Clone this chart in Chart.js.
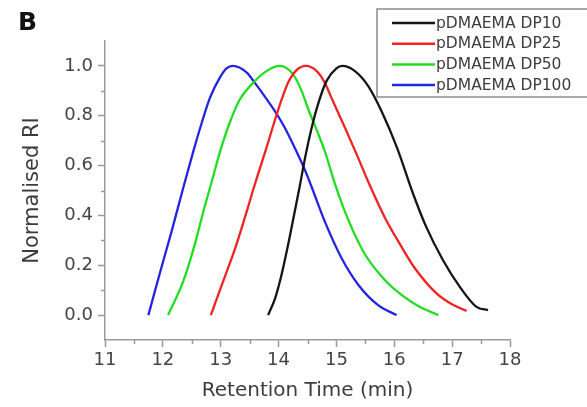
<!DOCTYPE html>
<html>
<head>
<meta charset="utf-8">
<script src="https://cdn.jsdelivr.net/npm/chart.js@4.4.0/dist/chart.umd.min.js"></script>
<style>
  html, body { margin: 0; padding: 0; background: #ffffff; }
  #wrap { width: 587px; height: 407px; }
</style>
</head>
<body>
<div id="wrap"><canvas id="gpc" width="587" height="407"></canvas></div>
<script>
// GPC traces: retention time (min) and normalised RI response per polymer
const seriesLabels = ['pDMAEMA DP10', 'pDMAEMA DP25', 'pDMAEMA DP50', 'pDMAEMA DP100'];

const dp10Time = [13.82, 13.94, 14.05, 14.20, 14.36, 14.47, 14.57, 14.68, 14.83, 15.00, 15.10, 15.32, 15.55, 15.78, 16.05, 16.32, 16.55, 16.84, 17.13, 17.42, 17.62];
const dp10RI   = [0.0, 0.067, 0.161, 0.322, 0.51, 0.645, 0.75, 0.845, 0.94, 0.99, 1.0, 0.979, 0.919, 0.818, 0.67, 0.49, 0.355, 0.221, 0.114, 0.033, 0.02];

const dp25Time = [12.83, 13.04, 13.27, 13.45, 13.57, 13.79, 13.96, 14.06, 14.17, 14.31, 14.47, 14.66, 14.80, 14.94, 15.15, 15.35, 15.55, 15.84, 16.09, 16.35, 16.73, 17.02, 17.25];
const dp25RI   = [0.0, 0.134, 0.282, 0.416, 0.51, 0.671, 0.80, 0.87, 0.935, 0.983, 1.0, 0.979, 0.932, 0.858, 0.751, 0.645, 0.535, 0.39, 0.288, 0.19, 0.087, 0.04, 0.017];

const dp50Time = [12.09, 12.35, 12.55, 12.70, 12.82, 12.99, 13.16, 13.33, 13.56, 13.79, 14.02, 14.25, 14.40, 14.51, 14.66, 14.80, 14.98, 15.20, 15.49, 15.84, 16.12, 16.42, 16.76];
const dp50RI   = [0.0, 0.134, 0.282, 0.416, 0.515, 0.657, 0.775, 0.865, 0.932, 0.979, 1.0, 0.966, 0.899, 0.828, 0.742, 0.657, 0.523, 0.385, 0.245, 0.14, 0.082, 0.035, 0.0];

const dp100Time = [11.75, 11.95, 12.15, 12.34, 12.53, 12.67, 12.81, 12.99, 13.10, 13.21, 13.45, 13.59, 13.76, 13.96, 14.11, 14.28, 14.45, 14.57, 14.80, 15.09, 15.38, 15.72, 16.04];
const dp100RI   = [0.0, 0.17, 0.335, 0.50, 0.66, 0.77, 0.87, 0.955, 0.99, 1.0, 0.973, 0.932, 0.878, 0.81, 0.751, 0.671, 0.585, 0.515, 0.375, 0.228, 0.121, 0.04, 0.0];

const seriesColors = ['#151515', '#ee2424', '#22dd22', '#2424e0'];

function toPoints(xs, ys) {
  return xs.map((x, i) => ({ x: x, y: ys[i] }));
}

const traces = [
  toPoints(dp10Time, dp10RI),
  toPoints(dp25Time, dp25RI),
  toPoints(dp50Time, dp50RI),
  toPoints(dp100Time, dp100RI)
];

const FONT = "'DejaVu Sans', sans-serif";
const AXIS_GREY = '#9a9a9a';
const TEXT_GREY = '#3c3c3c';

// y ticks run every 0.1; only even tenths between 0 and 1 are labelled
function tenths(v) { return Math.round(v * 10); }
function isMajorY(v) { const t = tenths(v); return t >= 0 && t <= 10 && t % 2 === 0; }

// Short minor ticks half-way between the labelled ones
const minorTicks = {
  id: 'minorTicks',
  afterDraw(chart) {
    const { ctx, scales } = chart;
    const xs = scales.x, ys = scales.y;
    ctx.save();
    ctx.strokeStyle = AXIS_GREY;
    ctx.lineWidth = 1.5;
    ctx.beginPath();
    for (let v = 11.5; v < 18; v += 1) {
      const px = Math.round(xs.getPixelForValue(v)) + 0.5;
      ctx.moveTo(px, xs.top);
      ctx.lineTo(px, xs.top + 4);
    }
    for (let k = 1; k <= 9; k += 2) {
      const py = Math.round(ys.getPixelForValue(k / 10)) + 0.5;
      ctx.moveTo(ys.right, py);
      ctx.lineTo(ys.right - 4, py);
    }
    ctx.stroke();
    ctx.restore();
  }
};

// Boxed legend in the upper-right corner
const boxedLegend = {
  id: 'boxedLegend',
  afterDraw(chart) {
    const { ctx } = chart;
    const left = 377, top = 9, width = 214, height = 88;
    ctx.save();
    ctx.strokeStyle = '#8c8c8c';
    ctx.lineWidth = 1.5;
    ctx.fillStyle = '#ffffff';
    ctx.fillRect(left, top, width, height);
    ctx.strokeRect(left, top, width, height);
    ctx.font = '15.5px ' + FONT;
    ctx.textBaseline = 'middle';
    ctx.textAlign = 'left';
    chart.data.datasets.forEach((ds, i) => {
      const y = top + 14 + i * 20.7;
      ctx.strokeStyle = ds.borderColor;
      ctx.lineWidth = 2.5;
      ctx.beginPath();
      ctx.moveTo(392, y);
      ctx.lineTo(435, y);
      ctx.stroke();
      ctx.fillStyle = TEXT_GREY;
      ctx.fillText(ds.label, 436, y + 0.5);
    });
    ctx.restore();
  }
};

new Chart(document.getElementById('gpc'), {
  type: 'scatter',
  data: {
    datasets: traces.map((pts, i) => ({
      label: seriesLabels[i],
      data: pts,
      showLine: true,
      borderColor: seriesColors[i],
      backgroundColor: seriesColors[i],
      borderWidth: 2.3,
      pointRadius: 0,
      pointHoverRadius: 0,
      cubicInterpolationMode: 'monotone',
      fill: false
    }))
  },
  options: {
    responsive: false,
    animation: false,
    devicePixelRatio: 1,
    layout: { padding: { left: 18, right: 77, top: 2, bottom: 4 } },
    plugins: {
      legend: { display: false },
      tooltip: { enabled: false },
      title: {
        display: true,
        text: 'B',
        align: 'start',
        color: '#111111',
        font: { family: FONT, size: 25, weight: 'bold' },
        padding: { top: 6, bottom: 3 }
      }
    },
    scales: {
      x: {
        type: 'linear',
        min: 11,
        max: 18,
        afterFit(scale) { scale.height = 63; },
        border: { display: true, color: AXIS_GREY, width: 1.5 },
        grid: { drawOnChartArea: false, drawTicks: true, tickLength: 7, tickColor: AXIS_GREY, tickWidth: 1.5 },
        ticks: {
          stepSize: 1,
          padding: 3,
          color: '#444444',
          font: { family: FONT, size: 18 },
          callback: (v) => String(v)
        },
        title: {
          display: true,
          text: 'Retention Time (min)',
          color: TEXT_GREY,
          font: { family: FONT, size: 20 },
          padding: { top: 0, bottom: 0 }
        }
      },
      y: {
        type: 'linear',
        min: -0.1,
        max: 1.1,
        afterFit(scale) { scale.width = 87; },
        border: { display: true, color: AXIS_GREY, width: 1.5 },
        grid: {
          drawOnChartArea: false,
          drawTicks: true,
          tickLength: 7,
          tickWidth: 1.5,
          tickColor: (c) => (c.tick && isMajorY(c.tick.value)) ? AXIS_GREY : 'rgba(0,0,0,0)'
        },
        ticks: {
          stepSize: 0.1,
          padding: 5,
          color: '#444444',
          font: { family: FONT, size: 18 },
          callback: (v) => isMajorY(v) ? (tenths(v) / 10).toFixed(1) : ''
        },
        title: {
          display: true,
          text: 'Normalised RI',
          color: TEXT_GREY,
          font: { family: FONT, size: 21 },
          padding: { top: 2, bottom: 2 }
        }
      }
    }
  },
  plugins: [minorTicks, boxedLegend]
});
</script>
</body>
</html>
